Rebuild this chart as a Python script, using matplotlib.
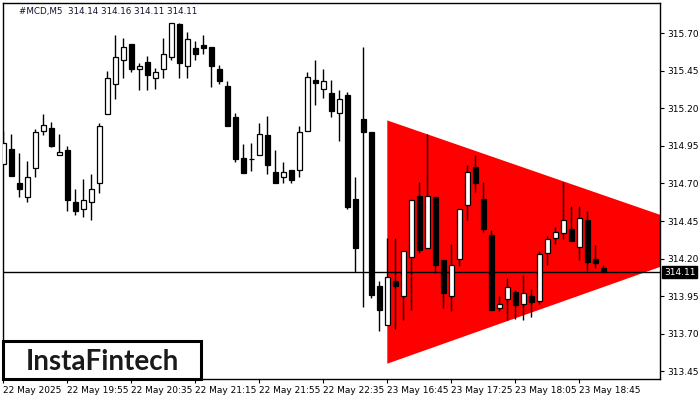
import matplotlib
matplotlib.use("Agg")
import matplotlib.pyplot as plt
from matplotlib.patches import Polygon

# ---- data ----
opens = [314.83, 314.93, 314.70, 314.61, 314.80, 315.05, 315.07, 314.89, 314.92, 314.58,
         314.53, 314.58, 314.70, 315.16, 315.36, 315.52, 315.63, 315.465, 315.51, 315.40,
         315.46, 315.54, 315.76, 315.48, 315.60, 315.62, 315.61, 315.46, 315.35, 315.14,
         314.87, 314.86, 314.89, 315.02, 314.775, 314.74, 314.79, 314.79, 315.05, 315.39,
         315.33, 315.30, 315.17, 315.29, 314.60, 315.13, 315.04, 314.02, 313.76, 314.05,
         313.95, 314.21, 314.62, 314.27, 314.61, 314.19, 313.95, 314.20, 314.56, 314.81,
         314.60, 314.36, 313.87, 313.93, 313.98, 313.90, 313.95, 313.92, 314.24, 314.335,
         314.37, 314.40, 314.275, 314.46, 314.20, 314.14]
highs = [315.05, 315.03, 314.90, 314.85, 315.06, 315.16, 315.11, 315.03, 314.95, 314.66,
         314.73, 314.76, 315.10, 315.45, 315.69, 315.67, 315.63, 315.50, 315.55, 315.47,
         315.67, 315.77, 315.77, 315.71, 315.65, 315.69, 315.61, 315.49, 315.38, 315.17,
         314.96, 314.97, 315.10, 315.15, 314.92, 314.84, 314.79, 315.08, 315.44, 315.52,
         315.46, 315.39, 315.32, 315.31, 314.74, 315.61, 315.04, 314.05, 314.335, 314.335,
         314.25, 314.59, 314.71, 315.03, 314.61, 314.19, 314.30, 314.53, 314.82, 314.89,
         314.71, 314.39, 313.95, 314.07, 313.99, 314.09, 314.00, 314.25, 314.35, 314.41,
         314.71, 314.55, 314.55, 314.52, 314.29, 314.16]
lows = [314.83, 314.75, 314.61, 314.58, 314.74, 315.02, 314.94, 314.89, 314.52, 314.49,
        314.48, 314.46, 314.64, 315.16, 315.26, 315.40, 315.44, 315.32, 315.32, 315.33,
        315.40, 315.52, 315.40, 315.40, 315.52, 315.56, 315.34, 315.36, 315.08, 314.845,
        314.77, 314.785, 314.89, 314.765, 314.705, 314.705, 314.70, 314.74, 315.05, 315.225,
        315.27, 315.14, 314.98, 314.53, 314.11, 313.88, 313.94, 313.72, 313.76, 313.73,
        313.79, 313.86, 314.24, 314.27, 314.105, 313.87, 313.85, 314.15, 314.46, 314.645,
        314.38, 313.86, 313.85, 313.79, 313.80, 313.79, 313.81, 313.90, 314.16, 314.30,
        314.33, 314.32, 314.19, 314.12, 314.14, 314.11]
closes = [314.97, 314.75, 314.66, 314.74, 315.04, 315.09, 314.95, 314.91, 314.59, 314.52,
          314.59, 314.66, 315.08, 315.40, 315.54, 315.61, 315.46, 315.48, 315.42, 315.44,
          315.56, 315.77, 315.50, 315.66, 315.56, 315.60, 315.48, 315.38, 315.08, 314.86,
          314.77, 314.862, 315.03, 314.82, 314.705, 314.775, 314.725, 315.04, 315.41, 315.37,
          315.38, 315.18, 315.26, 314.545, 314.27, 315.045, 313.96, 313.86, 314.08, 314.02,
          314.25, 314.59, 314.26, 314.62, 314.16, 313.97, 314.16, 314.53, 314.775, 314.70,
          314.40, 313.86, 313.90, 314.01, 313.89, 313.97, 313.91, 314.23, 314.33, 314.38,
          314.46, 314.32, 314.47, 314.18, 314.17, 314.11]

tick_positions = [0, 8, 16, 24, 32, 40, 48, 56, 64, 72]
tick_labels = ["22 May 2025", "22 May 19:55", "22 May 20:35", "22 May 21:15",
               "22 May 21:55", "22 May 22:35", "23 May 16:45", "23 May 17:25",
               "23 May 18:05", "23 May 18:45"]
y_ticks = [313.45, 313.70, 313.95, 314.20, 314.45, 314.70, 314.95, 315.20, 315.45, 315.70]

triangle_x = [48, 48, 91.4]
triangle_y = [315.12, 313.50, 314.32]

title_text = "#MCD,M5  314.14 314.16 314.11 314.11"
last_price = 314.11

# ---- figure ----
fig = plt.figure(figsize=(7, 4), dpi=100)
ax = fig.add_axes([3 / 700, 21 / 400, 657 / 700, 376 / 400])
ax.set_xlim(-0.04, 82.09)
ax.set_ylim(313.398, 315.902)

# triangle pattern
ax.add_patch(Polygon(list(zip(triangle_x, triangle_y)), closed=True,
                     facecolor="#ff0000", edgecolor="none", zorder=1))

# last price line
ax.axhline(last_price, color="black", lw=1.0, zorder=2)

# candles
xs = list(range(len(opens)))
ax.vlines(xs, lows, highs, color="black", lw=1.0, zorder=3)
for i in xs:
    o, c = opens[i], closes[i]
    bottom = min(o, c)
    height = max(abs(c - o), 0.001)
    fc = "white" if c >= o else "black"
    ax.bar(i, height, bottom=bottom, width=0.62, facecolor=fc,
           edgecolor="black", linewidth=0.9, zorder=4)

# axes styling
for s in ax.spines.values():
    s.set_color("black")
    s.set_linewidth(1.0)
ax.yaxis.tick_right()
ax.set_yticks(y_ticks)
ax.set_yticklabels([f"{v:.2f}" for v in y_ticks], fontsize=6.5)
ax.tick_params(axis="y", direction="out", length=3, width=0.8, pad=2, colors="black")
ax.set_xticks(tick_positions)
ax.set_xticklabels(tick_labels, fontsize=6.5, ha="left")
ax.tick_params(axis="x", direction="out", length=3, width=0.8, pad=2, colors="black")

# title
ax.text(16 / 657, 0.977, title_text, transform=ax.transAxes, fontsize=6.3,
        color="#101030", va="center", ha="left")

# last price tag
ax.annotate(f"{last_price:.2f}", xy=(1.0, last_price), xycoords=("axes fraction", "data"),
            xytext=(3, 0), textcoords="offset points", fontsize=6.5, color="white",
            va="center", ha="left",
            bbox=dict(boxstyle="square,pad=0.2", facecolor="black", edgecolor="black"))

# logo
fig.patches.append(plt.Rectangle((3 / 700, 1 - 379 / 400), 198 / 700, 38 / 400,
                                 transform=fig.transFigure, facecolor="white",
                                 edgecolor="black", linewidth=2.2, zorder=10))
fig.text(102 / 700, 1 - 370 / 400, "InstaFintech", fontsize=20, family="Lato",
         fontweight="bold", color="#1a1a1a", ha="center", va="baseline", zorder=11)

fig.savefig("out.png", dpi=100)
